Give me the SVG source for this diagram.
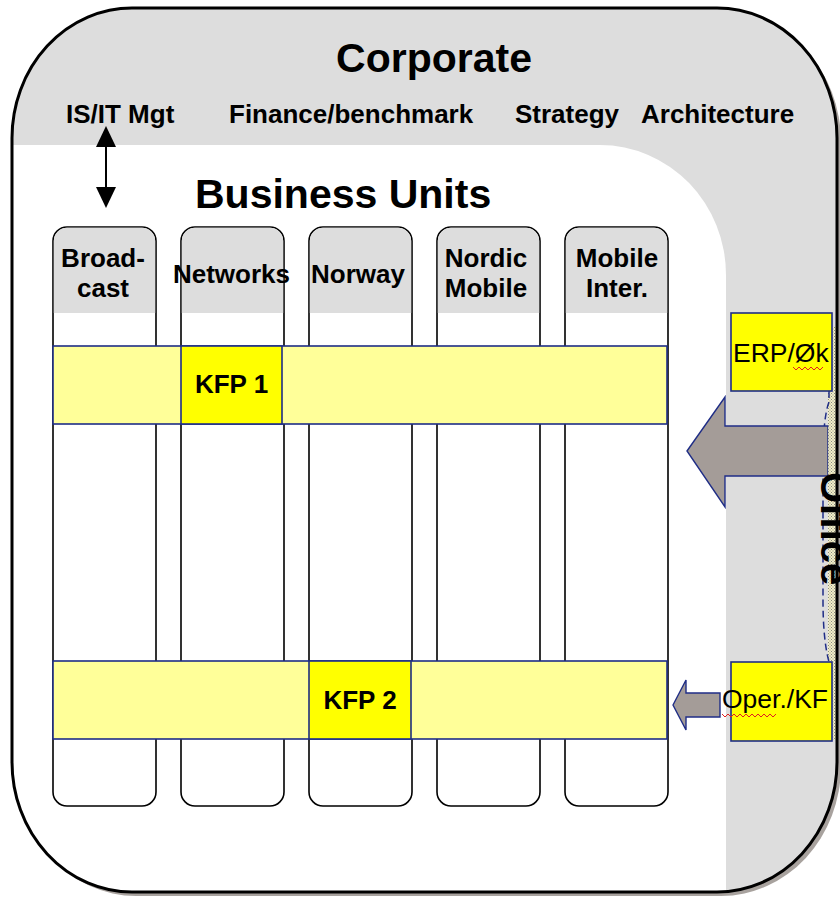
<svg xmlns="http://www.w3.org/2000/svg" width="840" height="898" viewBox="0 0 840 898">
<style>
text{font-family:"Liberation Sans",Arial,sans-serif;fill:#000}
.b{font-weight:bold}
.h{font-size:26px;font-weight:bold;text-anchor:middle}
.col{fill:#fff;stroke:#000;stroke-width:1.6}
.hdr{fill:#DDDDDD}
.band{fill:#FFFF99;stroke:#1F2D86;stroke-width:1.6}
.kfp{fill:#FFFF00;stroke:#1F2D86;stroke-width:1.6}
.arr{fill:#A49C98;stroke:#1F2D86;stroke-width:1.4}
.sq{fill:none;stroke:#E02020;stroke-width:1}
</style>
<defs>
<clipPath id="outerClip">
<path d="M132,8 H717 A120,130 0 0 1 837,138 V762 A120,130 0 0 1 717,892 H132 A120,130 0 0 1 12,762 V138 A120,130 0 0 1 132,8 Z"/>
</clipPath>
<pattern id="dots" width="3" height="3" patternUnits="userSpaceOnUse">
<rect width="3" height="3" fill="#F2EFC8"/>
<rect width="1" height="1" fill="#8A8A80"/>
<rect x="1.5" y="1.5" width="1" height="1" fill="#8A8A80"/>
</pattern>
</defs>

<g id="corporate">
<path d="M136,12 H721 A120,130 0 0 1 841,142 V766 A120,130 0 0 1 721,896 H136 A120,130 0 0 1 16,766 V142 A120,130 0 0 1 136,12 Z" fill="#A8A29E"/>
<path d="M132,8 H717 A120,130 0 0 1 837,138 V762 A120,130 0 0 1 717,892 H132 A120,130 0 0 1 12,762 V138 A120,130 0 0 1 132,8 Z" fill="#DDDDDD"/>
<path d="M0,145 H600 A126,130 0 0 1 726,275 V900 H0 Z" fill="#fff" clip-path="url(#outerClip)"/>
<text x="434" y="72" class="b" font-size="41" text-anchor="middle">Corporate</text>
<text x="66" y="123" class="b" font-size="26">IS/IT Mgt</text>
<text x="229" y="123" class="b" font-size="26">Finance/benchmark</text>
<text x="515" y="123" class="b" font-size="26">Strategy</text>
<text x="641" y="123" class="b" font-size="26">Architecture</text>
</g>

<g id="office">
<rect x="828" y="327" width="9" height="413" fill="url(#dots)"/>
<path d="M829,391 V402 Q822,420 823,480 V600 Q823,640 829,662" fill="none" stroke="#1F2D86" stroke-width="1.5" stroke-dasharray="7,4"/>
</g>

<g id="business-units">
<text x="195" y="208" class="b" font-size="41">Business Units</text>
</g>

<g id="columns">
<g id="col-broadcast">
<rect x="53" y="227" width="103" height="579" rx="14" class="col"/>
<path d="M53.8,313 V241 A13,13 0 0 1 66.8,227.8 H142.2 A13,13 0 0 1 155.2,241 V313 Z" class="hdr"/>
<text x="103" y="267" class="h">Broad-</text>
<text x="103" y="297" class="h">cast</text>
</g>
<g id="col-networks">
<rect x="181" y="227" width="103" height="579" rx="14" class="col"/>
<path d="M181.8,313 V241 A13,13 0 0 1 194.8,227.8 H270.2 A13,13 0 0 1 283.2,241 V313 Z" class="hdr"/>
<text x="231.5" y="283" class="h">Networks</text>
</g>
<g id="col-norway">
<rect x="309" y="227" width="103" height="579" rx="14" class="col"/>
<path d="M309.8,313 V241 A13,13 0 0 1 322.8,227.8 H398.2 A13,13 0 0 1 411.2,241 V313 Z" class="hdr"/>
<text x="358" y="283" class="h">Norway</text>
</g>
<g id="col-nordic">
<rect x="437" y="227" width="103" height="579" rx="14" class="col"/>
<path d="M437.8,313 V241 A13,13 0 0 1 450.8,227.8 H526.2 A13,13 0 0 1 539.2,241 V313 Z" class="hdr"/>
<text x="486" y="267" class="h">Nordic</text>
<text x="486" y="297" class="h">Mobile</text>
</g>
<g id="col-mobile">
<rect x="565" y="227" width="103" height="579" rx="14" class="col"/>
<path d="M565.8,313 V241 A13,13 0 0 1 578.8,227.8 H654.2 A13,13 0 0 1 667.2,241 V313 Z" class="hdr"/>
<text x="617" y="267" class="h">Mobile</text>
<text x="617" y="297" class="h">Inter.</text>
</g>
</g>

<g id="kfp1">
<rect x="53" y="346" width="614" height="78" class="band"/>
<rect x="181" y="346" width="101" height="78" class="kfp"/>
<text x="231.5" y="393" class="h">KFP 1</text>
</g>

<g id="kfp2">
<rect x="53" y="661" width="614" height="78" class="band"/>
<rect x="309" y="661" width="102" height="78" class="kfp"/>
<text x="360" y="709" class="h">KFP 2</text>
</g>

<g id="erp">
<rect x="731" y="313" width="101" height="78" class="kfp"/>
<text x="733" y="362" font-size="26.5">ERP/Øk</text>
<path d="M793,367 l3,3 l3,-3 l3,3 l3,-3 l3,3 l3,-3 l3,3 l3,-3 l3,3 l3,-3" class="sq"/>
</g>

<g id="oper">
<rect x="731" y="662" width="101" height="79" class="kfp"/>
<text x="722" y="708" font-size="26.5">Oper./KF</text>
<path d="M722,714 l3,3 l3,-3 l3,3 l3,-3 l3,3 l3,-3 l3,3 l3,-3 l3,3 l3,-3 l3,3 l3,-3 l3,3 l3,-3 l3,3 l3,-3 l3,3 l3,-3" class="sq"/>
</g>

<g id="connectors">
<line x1="106" y1="143" x2="106" y2="190" stroke="#000" stroke-width="2"/>
<polygon points="106,126 96,147 116,147" fill="#000"/>
<polygon points="106,208 96,187 116,187" fill="#000"/>
<polygon points="687,451 725,397 725,426 828,426 828,476 725,476 725,507" class="arr"/>
<polygon points="673,705 686,680 686,693 720,693 720,717 686,717 686,730" class="arr"/>
</g>

<g id="office-label">
<rect x="828" y="426" width="9" height="50" fill="url(#dots)" opacity="0.8"/>
<text x="821" y="472" class="b" font-size="40" transform="rotate(90 821 472)">Office</text>
</g>

<g id="outer-border">
<path d="M132,8 H717 A120,130 0 0 1 837,138 V762 A120,130 0 0 1 717,892 H132 A120,130 0 0 1 12,762 V138 A120,130 0 0 1 132,8 Z" fill="none" stroke="#000" stroke-width="3"/>
</g>
</svg>
